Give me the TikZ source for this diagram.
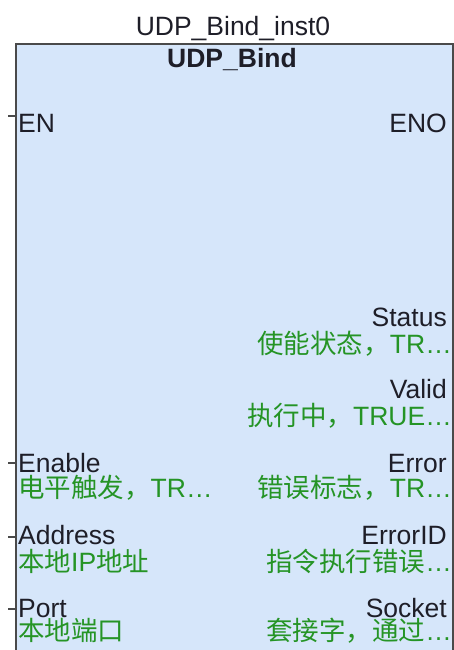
\documentclass[tikz,border=0pt]{standalone}
\usepackage{fontspec}
\setmainfont{Liberation Sans}
\newfontfamily\cjk{Noto Sans CJK SC}
\usetikzlibrary{positioning,calc}
\definecolor{fbfill}{HTML}{D6E6FA}
\definecolor{fbline}{HTML}{4A4A4A}
\definecolor{txt}{HTML}{1E1E28}
\definecolor{cmt}{HTML}{259425}

\begin{document}
\begin{tikzpicture}[x=1pt,y=-1pt,
  lbl/.style={inner sep=0pt,text=txt,font=\fontsize{26.5}{30}\selectfont},
  lin/.style={lbl,anchor=base west},
  lout/.style={lbl,anchor=base east},
  din/.style={lin,text=cmt},
  dout/.style={lout,text=cmt},
  pin/.style={fbline,line width=1.2pt}]
\useasboundingbox (0,0) rectangle (454,650);
\node[draw=fbline,fill=fbfill,line width=2pt,inner sep=0pt,anchor=north west,
      minimum width=436.5pt,minimum height=640pt] (fb) at (15,43) {};
\node[lbl,anchor=base] (inst) at (233,36) {UDP\_Bind\_inst0};
\node[lbl,anchor=base,font=\fontsize{26.5}{30}\selectfont\bfseries] (type) at (232,68) {UDP\_Bind};
% inputs
\node[lin] (en) at (18,132) {EN};
\node[lin] (enable) at (18,472) {Enable};
\node[din] (enable-c) at (18,497) {{\cjk 电平触发，}TR…};
\node[lin] (address) at (18,544) {Address};
\node[din] (address-c) at (18,571) {{\cjk 本地}IP{\cjk 地址}};
\node[lin] (port) at (18,617) {Port};
\node[din] (port-c) at (18,640) {{\cjk 本地端口}};
% outputs
\node[lout] (eno) at (447,132) {ENO};
\node[lout] (status) at (447,326) {Status};
\node[dout] (status-c) at (452,353) {{\cjk 使能状态，}TR…};
\node[lout] (valid) at (447,398) {Valid};
\node[dout] (valid-c) at (452,425) {{\cjk 执行中，}TRUE…};
\node[lout] (error) at (447,472) {Error};
\node[dout] (error-c) at (452,497) {{\cjk 错误标志，}TR…};
\node[lout] (errorid) at (447,544) {ErrorID};
\node[dout] (errorid-c) at (452,571) {{\cjk 指令执行错误}…};
\node[lout] (socket) at (447,617) {Socket};
\node[dout] (socket-c) at (452,640) {{\cjk 套接字，通过}…};
% pin stubs
\foreach \p/\y in {en/116,enable/463,address/537,port/609} {
  \coordinate (\p-tip) at (8,\y);
  \draw[pin] (\p-tip) -- (\p-tip -| fb.west);
}
\coordinate (eno-tip) at (454,115);
\draw[pin] (eno-tip -| fb.east) -- (eno-tip);
\end{tikzpicture}
\end{document}
